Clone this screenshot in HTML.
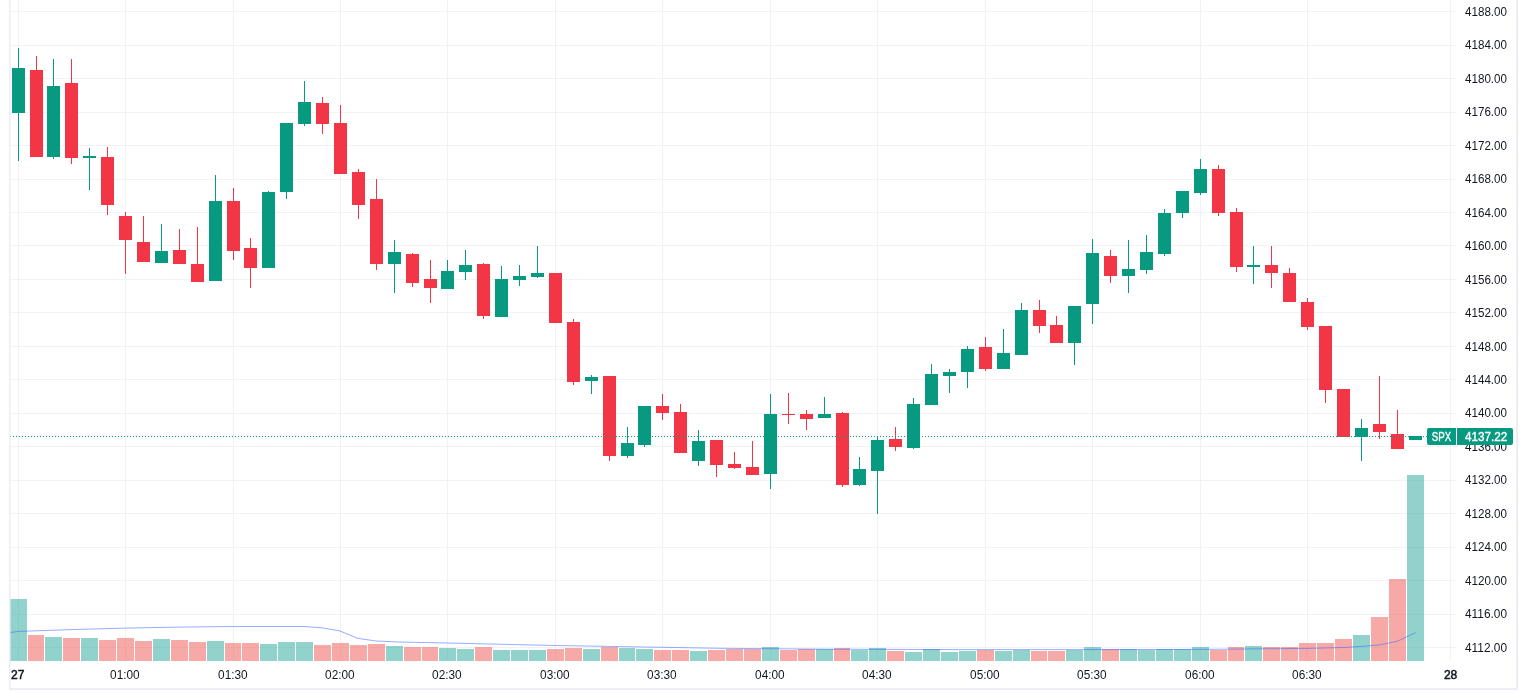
<!DOCTYPE html>
<html lang="en"><head><meta charset="utf-8"><title>SPX chart</title>
<style>html,body{margin:0;padding:0;background:#fff;overflow:hidden}svg{display:block}text{font-family:"Liberation Sans", Arial, sans-serif;font-size:12px;fill:#131722}</style></head><body>
<svg width="1527" height="693" viewBox="0 0 1527 693">
<rect width="1527" height="693" fill="#fff"/>
<g shape-rendering="crispEdges" fill="#f0f2f5">
<rect x="10" y="11" width="1447" height="1"/>
<rect x="10" y="45" width="1447" height="1"/>
<rect x="10" y="78" width="1447" height="1"/>
<rect x="10" y="112" width="1447" height="1"/>
<rect x="10" y="145" width="1447" height="1"/>
<rect x="10" y="179" width="1447" height="1"/>
<rect x="10" y="212" width="1447" height="1"/>
<rect x="10" y="245" width="1447" height="1"/>
<rect x="10" y="279" width="1447" height="1"/>
<rect x="10" y="312" width="1447" height="1"/>
<rect x="10" y="346" width="1447" height="1"/>
<rect x="10" y="379" width="1447" height="1"/>
<rect x="10" y="413" width="1447" height="1"/>
<rect x="10" y="446" width="1447" height="1"/>
<rect x="10" y="480" width="1447" height="1"/>
<rect x="10" y="513" width="1447" height="1"/>
<rect x="10" y="547" width="1447" height="1"/>
<rect x="10" y="580" width="1447" height="1"/>
<rect x="10" y="614" width="1447" height="1"/>
<rect x="10" y="647" width="1447" height="1"/>
<rect x="18" y="0" width="1" height="661"/>
<rect x="125" y="0" width="1" height="661"/>
<rect x="233" y="0" width="1" height="661"/>
<rect x="340" y="0" width="1" height="661"/>
<rect x="447" y="0" width="1" height="661"/>
<rect x="555" y="0" width="1" height="661"/>
<rect x="662" y="0" width="1" height="661"/>
<rect x="770" y="0" width="1" height="661"/>
<rect x="877" y="0" width="1" height="661"/>
<rect x="985" y="0" width="1" height="661"/>
<rect x="1092" y="0" width="1" height="661"/>
<rect x="1200" y="0" width="1" height="661"/>
<rect x="1307" y="0" width="1" height="661"/>
<rect x="1450" y="0" width="1" height="661"/>
</g>
<g shape-rendering="crispEdges">
<rect x="10" y="599" width="17" height="62" fill="rgba(38,166,154,0.5)"/>
<rect x="28" y="635" width="16" height="26" fill="rgba(239,83,80,0.5)"/>
<rect x="45" y="637" width="17" height="24" fill="rgba(38,166,154,0.5)"/>
<rect x="63" y="638" width="17" height="23" fill="rgba(239,83,80,0.5)"/>
<rect x="81" y="638" width="17" height="23" fill="rgba(38,166,154,0.5)"/>
<rect x="99" y="640" width="17" height="21" fill="rgba(239,83,80,0.5)"/>
<rect x="117" y="638" width="17" height="23" fill="rgba(239,83,80,0.5)"/>
<rect x="135" y="641" width="17" height="20" fill="rgba(239,83,80,0.5)"/>
<rect x="153" y="639" width="17" height="22" fill="rgba(38,166,154,0.5)"/>
<rect x="171" y="640" width="17" height="21" fill="rgba(239,83,80,0.5)"/>
<rect x="189" y="642" width="17" height="19" fill="rgba(239,83,80,0.5)"/>
<rect x="207" y="641" width="17" height="20" fill="rgba(38,166,154,0.5)"/>
<rect x="225" y="643" width="16" height="18" fill="rgba(239,83,80,0.5)"/>
<rect x="242" y="643" width="17" height="18" fill="rgba(239,83,80,0.5)"/>
<rect x="260" y="644" width="17" height="17" fill="rgba(38,166,154,0.5)"/>
<rect x="278" y="642" width="17" height="19" fill="rgba(38,166,154,0.5)"/>
<rect x="296" y="642" width="17" height="19" fill="rgba(38,166,154,0.5)"/>
<rect x="314" y="645" width="17" height="16" fill="rgba(239,83,80,0.5)"/>
<rect x="332" y="643" width="17" height="18" fill="rgba(239,83,80,0.5)"/>
<rect x="350" y="645" width="17" height="16" fill="rgba(239,83,80,0.5)"/>
<rect x="368" y="644" width="17" height="17" fill="rgba(239,83,80,0.5)"/>
<rect x="386" y="646" width="17" height="15" fill="rgba(38,166,154,0.5)"/>
<rect x="404" y="647" width="17" height="14" fill="rgba(239,83,80,0.5)"/>
<rect x="422" y="647" width="16" height="14" fill="rgba(239,83,80,0.5)"/>
<rect x="439" y="648" width="17" height="13" fill="rgba(38,166,154,0.5)"/>
<rect x="457" y="649" width="17" height="12" fill="rgba(38,166,154,0.5)"/>
<rect x="475" y="647" width="17" height="14" fill="rgba(239,83,80,0.5)"/>
<rect x="493" y="650" width="17" height="11" fill="rgba(38,166,154,0.5)"/>
<rect x="511" y="650" width="17" height="11" fill="rgba(38,166,154,0.5)"/>
<rect x="529" y="650" width="17" height="11" fill="rgba(38,166,154,0.5)"/>
<rect x="547" y="649" width="17" height="12" fill="rgba(239,83,80,0.5)"/>
<rect x="565" y="648" width="17" height="13" fill="rgba(239,83,80,0.5)"/>
<rect x="583" y="649" width="17" height="12" fill="rgba(38,166,154,0.5)"/>
<rect x="601" y="647" width="17" height="14" fill="rgba(239,83,80,0.5)"/>
<rect x="619" y="648" width="16" height="13" fill="rgba(38,166,154,0.5)"/>
<rect x="636" y="649" width="17" height="12" fill="rgba(38,166,154,0.5)"/>
<rect x="654" y="650" width="17" height="11" fill="rgba(239,83,80,0.5)"/>
<rect x="672" y="650" width="17" height="11" fill="rgba(239,83,80,0.5)"/>
<rect x="690" y="651" width="17" height="10" fill="rgba(38,166,154,0.5)"/>
<rect x="708" y="650" width="17" height="11" fill="rgba(239,83,80,0.5)"/>
<rect x="726" y="649" width="17" height="12" fill="rgba(239,83,80,0.5)"/>
<rect x="744" y="649" width="17" height="12" fill="rgba(239,83,80,0.5)"/>
<rect x="762" y="647" width="17" height="14" fill="rgba(38,166,154,0.5)"/>
<rect x="780" y="650" width="17" height="11" fill="rgba(239,83,80,0.5)"/>
<rect x="798" y="649" width="17" height="12" fill="rgba(239,83,80,0.5)"/>
<rect x="816" y="649" width="17" height="12" fill="rgba(38,166,154,0.5)"/>
<rect x="834" y="648" width="16" height="13" fill="rgba(239,83,80,0.5)"/>
<rect x="851" y="650" width="17" height="11" fill="rgba(38,166,154,0.5)"/>
<rect x="869" y="648" width="17" height="13" fill="rgba(38,166,154,0.5)"/>
<rect x="887" y="651" width="17" height="10" fill="rgba(239,83,80,0.5)"/>
<rect x="905" y="652" width="17" height="9" fill="rgba(38,166,154,0.5)"/>
<rect x="923" y="649" width="17" height="12" fill="rgba(38,166,154,0.5)"/>
<rect x="941" y="652" width="17" height="9" fill="rgba(38,166,154,0.5)"/>
<rect x="959" y="651" width="17" height="10" fill="rgba(38,166,154,0.5)"/>
<rect x="977" y="650" width="17" height="11" fill="rgba(239,83,80,0.5)"/>
<rect x="995" y="651" width="17" height="10" fill="rgba(38,166,154,0.5)"/>
<rect x="1013" y="650" width="17" height="11" fill="rgba(38,166,154,0.5)"/>
<rect x="1031" y="651" width="16" height="10" fill="rgba(239,83,80,0.5)"/>
<rect x="1048" y="651" width="17" height="10" fill="rgba(239,83,80,0.5)"/>
<rect x="1066" y="650" width="17" height="11" fill="rgba(38,166,154,0.5)"/>
<rect x="1084" y="647" width="17" height="14" fill="rgba(38,166,154,0.5)"/>
<rect x="1102" y="649" width="17" height="12" fill="rgba(239,83,80,0.5)"/>
<rect x="1120" y="649" width="17" height="12" fill="rgba(38,166,154,0.5)"/>
<rect x="1138" y="650" width="17" height="11" fill="rgba(38,166,154,0.5)"/>
<rect x="1156" y="649" width="17" height="12" fill="rgba(38,166,154,0.5)"/>
<rect x="1174" y="649" width="17" height="12" fill="rgba(38,166,154,0.5)"/>
<rect x="1192" y="647" width="17" height="14" fill="rgba(38,166,154,0.5)"/>
<rect x="1210" y="650" width="17" height="11" fill="rgba(239,83,80,0.5)"/>
<rect x="1228" y="647" width="16" height="14" fill="rgba(239,83,80,0.5)"/>
<rect x="1245" y="646" width="17" height="15" fill="rgba(38,166,154,0.5)"/>
<rect x="1263" y="647" width="17" height="14" fill="rgba(239,83,80,0.5)"/>
<rect x="1281" y="647" width="17" height="14" fill="rgba(239,83,80,0.5)"/>
<rect x="1299" y="643" width="17" height="18" fill="rgba(239,83,80,0.5)"/>
<rect x="1317" y="643" width="17" height="18" fill="rgba(239,83,80,0.5)"/>
<rect x="1335" y="639" width="17" height="22" fill="rgba(239,83,80,0.5)"/>
<rect x="1353" y="635" width="17" height="26" fill="rgba(38,166,154,0.5)"/>
<rect x="1371" y="617" width="17" height="44" fill="rgba(239,83,80,0.5)"/>
<rect x="1389" y="579" width="17" height="82" fill="rgba(239,83,80,0.5)"/>
<rect x="1407" y="475" width="17" height="186" fill="rgba(38,166,154,0.5)"/>
</g>
<polyline fill="none" stroke="#2962ff" stroke-opacity="0.5" stroke-width="1" stroke-linejoin="round" points="10.0,632.6 18.5,631.4 72.0,629.6 125.5,628.1 180.0,627.1 233.5,626.5 304.0,626.5 322.0,627.8 340.0,631.0 358.0,638.4 376.0,641.0 399.0,642.0 448.0,643.0 485.0,643.9 555.0,645.5 662.0,647.3 720.0,648.3 830.0,649.2 955.0,649.6 1100.0,649.6 1200.0,649.4 1307.0,648.4 1343.0,647.5 1361.0,646.5 1379.0,645.0 1397.0,641.4 1415.5,632.7"/>
<g shape-rendering="crispEdges">
<rect x="18" y="48" width="1" height="113" fill="#089981"/>
<rect x="12" y="68" width="13" height="45" fill="#089981"/>
<rect x="36" y="56" width="1" height="101" fill="#f23645"/>
<rect x="30" y="70" width="13" height="87" fill="#f23645"/>
<rect x="53" y="59" width="1" height="100" fill="#089981"/>
<rect x="47" y="86" width="13" height="71" fill="#089981"/>
<rect x="71" y="59" width="1" height="105" fill="#f23645"/>
<rect x="65" y="83" width="13" height="75" fill="#f23645"/>
<rect x="89" y="148" width="1" height="42" fill="#089981"/>
<rect x="83" y="156" width="13" height="2" fill="#089981"/>
<rect x="107" y="147" width="1" height="68" fill="#f23645"/>
<rect x="101" y="157" width="13" height="48" fill="#f23645"/>
<rect x="125" y="212" width="1" height="62" fill="#f23645"/>
<rect x="119" y="216" width="13" height="24" fill="#f23645"/>
<rect x="143" y="216" width="1" height="46" fill="#f23645"/>
<rect x="137" y="242" width="13" height="20" fill="#f23645"/>
<rect x="161" y="224" width="1" height="39" fill="#089981"/>
<rect x="155" y="251" width="13" height="12" fill="#089981"/>
<rect x="179" y="229" width="1" height="35" fill="#f23645"/>
<rect x="173" y="250" width="13" height="14" fill="#f23645"/>
<rect x="197" y="227" width="1" height="55" fill="#f23645"/>
<rect x="191" y="264" width="13" height="18" fill="#f23645"/>
<rect x="215" y="175" width="1" height="106" fill="#089981"/>
<rect x="209" y="201" width="13" height="80" fill="#089981"/>
<rect x="233" y="188" width="1" height="72" fill="#f23645"/>
<rect x="227" y="201" width="13" height="50" fill="#f23645"/>
<rect x="250" y="238" width="1" height="50" fill="#f23645"/>
<rect x="244" y="248" width="13" height="20" fill="#f23645"/>
<rect x="268" y="191" width="1" height="77" fill="#089981"/>
<rect x="262" y="192" width="13" height="76" fill="#089981"/>
<rect x="286" y="123" width="1" height="76" fill="#089981"/>
<rect x="280" y="123" width="13" height="69" fill="#089981"/>
<rect x="304" y="81" width="1" height="45" fill="#089981"/>
<rect x="298" y="102" width="13" height="22" fill="#089981"/>
<rect x="322" y="97" width="1" height="37" fill="#f23645"/>
<rect x="316" y="103" width="13" height="21" fill="#f23645"/>
<rect x="340" y="105" width="1" height="69" fill="#f23645"/>
<rect x="334" y="123" width="13" height="51" fill="#f23645"/>
<rect x="358" y="169" width="1" height="50" fill="#f23645"/>
<rect x="352" y="172" width="13" height="33" fill="#f23645"/>
<rect x="376" y="179" width="1" height="91" fill="#f23645"/>
<rect x="370" y="199" width="13" height="65" fill="#f23645"/>
<rect x="394" y="240" width="1" height="53" fill="#089981"/>
<rect x="388" y="252" width="13" height="12" fill="#089981"/>
<rect x="412" y="253" width="1" height="34" fill="#f23645"/>
<rect x="406" y="254" width="13" height="29" fill="#f23645"/>
<rect x="430" y="260" width="1" height="43" fill="#f23645"/>
<rect x="424" y="279" width="13" height="9" fill="#f23645"/>
<rect x="447" y="260" width="1" height="29" fill="#089981"/>
<rect x="441" y="271" width="13" height="18" fill="#089981"/>
<rect x="465" y="250" width="1" height="30" fill="#089981"/>
<rect x="459" y="265" width="13" height="7" fill="#089981"/>
<rect x="483" y="263" width="1" height="56" fill="#f23645"/>
<rect x="477" y="264" width="13" height="52" fill="#f23645"/>
<rect x="501" y="266" width="1" height="51" fill="#089981"/>
<rect x="495" y="279" width="13" height="38" fill="#089981"/>
<rect x="519" y="265" width="1" height="21" fill="#089981"/>
<rect x="513" y="276" width="13" height="4" fill="#089981"/>
<rect x="537" y="246" width="1" height="32" fill="#089981"/>
<rect x="531" y="273" width="13" height="4" fill="#089981"/>
<rect x="555" y="273" width="1" height="50" fill="#f23645"/>
<rect x="549" y="273" width="13" height="50" fill="#f23645"/>
<rect x="573" y="319" width="1" height="66" fill="#f23645"/>
<rect x="567" y="322" width="13" height="60" fill="#f23645"/>
<rect x="591" y="375" width="1" height="19" fill="#089981"/>
<rect x="585" y="377" width="13" height="4" fill="#089981"/>
<rect x="609" y="376" width="1" height="85" fill="#f23645"/>
<rect x="603" y="376" width="13" height="80" fill="#f23645"/>
<rect x="627" y="427" width="1" height="31" fill="#089981"/>
<rect x="621" y="443" width="13" height="13" fill="#089981"/>
<rect x="644" y="406" width="1" height="41" fill="#089981"/>
<rect x="638" y="406" width="13" height="39" fill="#089981"/>
<rect x="662" y="394" width="1" height="26" fill="#f23645"/>
<rect x="656" y="406" width="13" height="7" fill="#f23645"/>
<rect x="680" y="404" width="1" height="49" fill="#f23645"/>
<rect x="674" y="412" width="13" height="41" fill="#f23645"/>
<rect x="698" y="430" width="1" height="36" fill="#089981"/>
<rect x="692" y="441" width="13" height="20" fill="#089981"/>
<rect x="716" y="440" width="1" height="37" fill="#f23645"/>
<rect x="710" y="440" width="13" height="25" fill="#f23645"/>
<rect x="734" y="452" width="1" height="17" fill="#f23645"/>
<rect x="728" y="464" width="13" height="4" fill="#f23645"/>
<rect x="752" y="441" width="1" height="34" fill="#f23645"/>
<rect x="746" y="467" width="13" height="8" fill="#f23645"/>
<rect x="770" y="394" width="1" height="95" fill="#089981"/>
<rect x="764" y="414" width="13" height="60" fill="#089981"/>
<rect x="788" y="393" width="1" height="31" fill="#f23645"/>
<rect x="782" y="414" width="13" height="1" fill="#f23645"/>
<rect x="806" y="410" width="1" height="20" fill="#f23645"/>
<rect x="800" y="414" width="13" height="5" fill="#f23645"/>
<rect x="824" y="397" width="1" height="21" fill="#089981"/>
<rect x="818" y="414" width="13" height="4" fill="#089981"/>
<rect x="842" y="412" width="1" height="75" fill="#f23645"/>
<rect x="836" y="413" width="13" height="72" fill="#f23645"/>
<rect x="859" y="457" width="1" height="29" fill="#089981"/>
<rect x="853" y="469" width="13" height="16" fill="#089981"/>
<rect x="877" y="436" width="1" height="78" fill="#089981"/>
<rect x="871" y="440" width="13" height="31" fill="#089981"/>
<rect x="895" y="427" width="1" height="24" fill="#f23645"/>
<rect x="889" y="439" width="13" height="8" fill="#f23645"/>
<rect x="913" y="398" width="1" height="51" fill="#089981"/>
<rect x="907" y="404" width="13" height="44" fill="#089981"/>
<rect x="931" y="364" width="1" height="41" fill="#089981"/>
<rect x="925" y="374" width="13" height="31" fill="#089981"/>
<rect x="949" y="369" width="1" height="24" fill="#089981"/>
<rect x="943" y="372" width="13" height="4" fill="#089981"/>
<rect x="967" y="346" width="1" height="42" fill="#089981"/>
<rect x="961" y="349" width="13" height="23" fill="#089981"/>
<rect x="985" y="337" width="1" height="34" fill="#f23645"/>
<rect x="979" y="347" width="13" height="22" fill="#f23645"/>
<rect x="1003" y="329" width="1" height="40" fill="#089981"/>
<rect x="997" y="353" width="13" height="16" fill="#089981"/>
<rect x="1021" y="303" width="1" height="52" fill="#089981"/>
<rect x="1015" y="310" width="13" height="45" fill="#089981"/>
<rect x="1039" y="300" width="1" height="33" fill="#f23645"/>
<rect x="1033" y="310" width="13" height="16" fill="#f23645"/>
<rect x="1056" y="316" width="1" height="27" fill="#f23645"/>
<rect x="1050" y="325" width="13" height="18" fill="#f23645"/>
<rect x="1074" y="306" width="1" height="59" fill="#089981"/>
<rect x="1068" y="306" width="13" height="37" fill="#089981"/>
<rect x="1092" y="239" width="1" height="85" fill="#089981"/>
<rect x="1086" y="253" width="13" height="51" fill="#089981"/>
<rect x="1110" y="250" width="1" height="33" fill="#f23645"/>
<rect x="1104" y="256" width="13" height="20" fill="#f23645"/>
<rect x="1128" y="240" width="1" height="53" fill="#089981"/>
<rect x="1122" y="269" width="13" height="7" fill="#089981"/>
<rect x="1146" y="235" width="1" height="39" fill="#089981"/>
<rect x="1140" y="252" width="13" height="18" fill="#089981"/>
<rect x="1164" y="209" width="1" height="47" fill="#089981"/>
<rect x="1158" y="213" width="13" height="41" fill="#089981"/>
<rect x="1182" y="191" width="1" height="27" fill="#089981"/>
<rect x="1176" y="191" width="13" height="22" fill="#089981"/>
<rect x="1200" y="159" width="1" height="36" fill="#089981"/>
<rect x="1194" y="169" width="13" height="24" fill="#089981"/>
<rect x="1218" y="165" width="1" height="51" fill="#f23645"/>
<rect x="1212" y="169" width="13" height="44" fill="#f23645"/>
<rect x="1236" y="208" width="1" height="64" fill="#f23645"/>
<rect x="1230" y="212" width="13" height="55" fill="#f23645"/>
<rect x="1253" y="246" width="1" height="38" fill="#089981"/>
<rect x="1247" y="265" width="13" height="2" fill="#089981"/>
<rect x="1271" y="246" width="1" height="42" fill="#f23645"/>
<rect x="1265" y="265" width="13" height="8" fill="#f23645"/>
<rect x="1289" y="268" width="1" height="34" fill="#f23645"/>
<rect x="1283" y="273" width="13" height="29" fill="#f23645"/>
<rect x="1307" y="298" width="1" height="32" fill="#f23645"/>
<rect x="1301" y="302" width="13" height="25" fill="#f23645"/>
<rect x="1325" y="326" width="1" height="77" fill="#f23645"/>
<rect x="1319" y="326" width="13" height="64" fill="#f23645"/>
<rect x="1343" y="389" width="1" height="48" fill="#f23645"/>
<rect x="1337" y="389" width="13" height="48" fill="#f23645"/>
<rect x="1361" y="419" width="1" height="42" fill="#089981"/>
<rect x="1355" y="428" width="13" height="9" fill="#089981"/>
<rect x="1379" y="376" width="1" height="63" fill="#f23645"/>
<rect x="1373" y="424" width="13" height="8" fill="#f23645"/>
<rect x="1397" y="410" width="1" height="39" fill="#f23645"/>
<rect x="1391" y="434" width="13" height="15" fill="#f23645"/>
<rect x="1415" y="436" width="1" height="4" fill="#089981"/>
<rect x="1409" y="436" width="13" height="4" fill="#089981"/>
</g>
<line x1="10" y1="436.5" x2="1427" y2="436.5" stroke="#089981" stroke-width="1" stroke-dasharray="1 2" shape-rendering="crispEdges"/>
<text x="1465" y="15.80" textLength="42" lengthAdjust="spacingAndGlyphs">4188.00</text>
<text x="1465" y="49.27" textLength="42" lengthAdjust="spacingAndGlyphs">4184.00</text>
<text x="1465" y="82.74" textLength="42" lengthAdjust="spacingAndGlyphs">4180.00</text>
<text x="1465" y="116.21" textLength="42" lengthAdjust="spacingAndGlyphs">4176.00</text>
<text x="1465" y="149.68" textLength="42" lengthAdjust="spacingAndGlyphs">4172.00</text>
<text x="1465" y="183.15" textLength="42" lengthAdjust="spacingAndGlyphs">4168.00</text>
<text x="1465" y="216.62" textLength="42" lengthAdjust="spacingAndGlyphs">4164.00</text>
<text x="1465" y="250.09" textLength="42" lengthAdjust="spacingAndGlyphs">4160.00</text>
<text x="1465" y="283.56" textLength="42" lengthAdjust="spacingAndGlyphs">4156.00</text>
<text x="1465" y="317.03" textLength="42" lengthAdjust="spacingAndGlyphs">4152.00</text>
<text x="1465" y="350.50" textLength="42" lengthAdjust="spacingAndGlyphs">4148.00</text>
<text x="1465" y="383.97" textLength="42" lengthAdjust="spacingAndGlyphs">4144.00</text>
<text x="1465" y="417.44" textLength="42" lengthAdjust="spacingAndGlyphs">4140.00</text>
<text x="1465" y="450.91" textLength="42" lengthAdjust="spacingAndGlyphs">4136.00</text>
<text x="1465" y="484.38" textLength="42" lengthAdjust="spacingAndGlyphs">4132.00</text>
<text x="1465" y="517.85" textLength="42" lengthAdjust="spacingAndGlyphs">4128.00</text>
<text x="1465" y="551.32" textLength="42" lengthAdjust="spacingAndGlyphs">4124.00</text>
<text x="1465" y="584.79" textLength="42" lengthAdjust="spacingAndGlyphs">4120.00</text>
<text x="1465" y="618.26" textLength="42" lengthAdjust="spacingAndGlyphs">4116.00</text>
<text x="1465" y="651.73" textLength="42" lengthAdjust="spacingAndGlyphs">4112.00</text>
<text x="17.8" y="679" text-anchor="middle" stroke="#131722" stroke-width="0.5">27</text>
<text x="1450.6" y="679" text-anchor="middle" stroke="#131722" stroke-width="0.5">28</text>
<text x="124.9" y="679" text-anchor="middle" textLength="29.6" lengthAdjust="spacingAndGlyphs">01:00</text>
<text x="232.9" y="679" text-anchor="middle" textLength="29.6" lengthAdjust="spacingAndGlyphs">01:30</text>
<text x="339.9" y="679" text-anchor="middle" textLength="29.6" lengthAdjust="spacingAndGlyphs">02:00</text>
<text x="446.9" y="679" text-anchor="middle" textLength="29.6" lengthAdjust="spacingAndGlyphs">02:30</text>
<text x="554.9" y="679" text-anchor="middle" textLength="29.6" lengthAdjust="spacingAndGlyphs">03:00</text>
<text x="661.9" y="679" text-anchor="middle" textLength="29.6" lengthAdjust="spacingAndGlyphs">03:30</text>
<text x="769.9" y="679" text-anchor="middle" textLength="29.6" lengthAdjust="spacingAndGlyphs">04:00</text>
<text x="876.9" y="679" text-anchor="middle" textLength="29.6" lengthAdjust="spacingAndGlyphs">04:30</text>
<text x="984.9" y="679" text-anchor="middle" textLength="29.6" lengthAdjust="spacingAndGlyphs">05:00</text>
<text x="1091.9" y="679" text-anchor="middle" textLength="29.6" lengthAdjust="spacingAndGlyphs">05:30</text>
<text x="1199.9" y="679" text-anchor="middle" textLength="29.6" lengthAdjust="spacingAndGlyphs">06:00</text>
<text x="1306.9" y="679" text-anchor="middle" textLength="29.6" lengthAdjust="spacingAndGlyphs">06:30</text>
<path d="M1429 428H1456V445H1429a2 2 0 0 1-2-2V430a2 2 0 0 1 2-2z" fill="#089981"/>
<path d="M1457 428H1511a2 2 0 0 1 2 2V443a2 2 0 0 1-2 2H1457z" fill="#089981"/>
<text x="1441.5" y="440.8" text-anchor="middle" textLength="19.3" lengthAdjust="spacingAndGlyphs" style="fill:#fff;stroke:#fff;stroke-width:0.35px">SPX</text>
<text x="1465" y="440.8" textLength="42.3" lengthAdjust="spacingAndGlyphs" style="fill:#fff;stroke:#fff;stroke-width:0.35px">4137.22</text>
<g shape-rendering="crispEdges" fill="#eceef5">
<rect x="9" y="0" width="1" height="690"/>
<rect x="10" y="0" width="1" height="690" fill-opacity="0.6"/>
<rect x="9" y="688" width="1509" height="2"/>
<rect x="1516" y="0" width="2" height="690"/>
</g>
</svg></body></html>
